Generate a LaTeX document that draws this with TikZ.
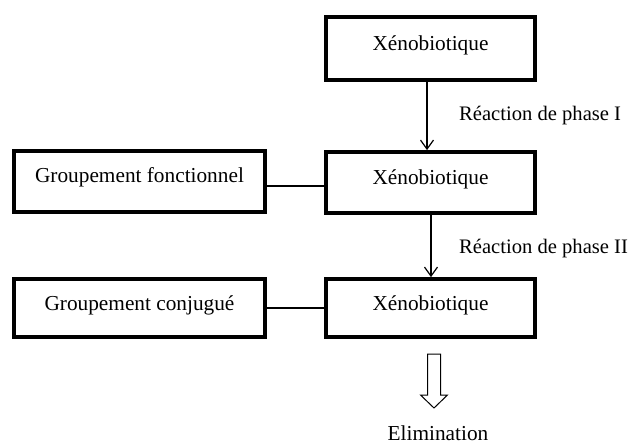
\documentclass[tikz,border=0pt]{standalone}
\usepackage{fontspec}
\setmainfont{Liberation Serif}
\usetikzlibrary{arrows.meta}
\begin{document}
\begin{tikzpicture}[x=1pt,y=-1pt,
  framebox/.style={draw, line width=3.8pt, inner sep=0pt},
  boxtext/.style={inner sep=0pt, font=\fontsize{21.3}{25}\selectfont},
  sidetext/.style={inner sep=0pt, font=\fontsize{20.6}{24}\selectfont},
  link/.style={line width=1.2pt},
  flow/.style={line width=1.2pt, -{Straight Barb[length=9pt,width=13pt,line width=1.2pt]}}]
  \useasboundingbox (0,0) rectangle (630,444);

  % main column
  \node[framebox, minimum width=209pt, minimum height=63pt] (x1) at (430.5,48.5) {};
  \node[framebox, minimum width=209pt, minimum height=61pt] (x2) at (430.5,182.5) {};
  \node[framebox, minimum width=209pt, minimum height=58pt] (x3) at (430.5,308) {};
  \node[boxtext] (t1) at ([yshift=3pt]x1.center) {Xénobiotique};
  \node[boxtext] (t2) at ([yshift=3pt]x2.center) {Xénobiotique};
  \node[boxtext] (t3) at ([yshift=3pt]x3.center) {Xénobiotique};

  % side boxes
  \node[framebox, minimum width=251pt, minimum height=61pt] (g1) at (139.5,181.5) {};
  \node[framebox, minimum width=251pt, minimum height=58pt] (g2) at (139.5,308) {};
  \node[boxtext] (u1) at ([yshift=4pt]g1.center) {Groupement fonctionnel};
  \node[boxtext] (u2) at ([yshift=3pt]g2.center) {Groupement conjugué};

  % connectors
  \draw[flow] ([xshift=-3.5pt]x1.south) -- ([xshift=-3.5pt]x2.north);
  \draw[flow] ([xshift=0.5pt]x2.south) -- ([xshift=0.5pt]x3.north);
  \draw[link] ([yshift=-4.5pt]g1.east) -- ([yshift=-4.5pt]g1.east -| x2.west);
  \draw[link] (g2.east) -- (x3.west);

  % reaction labels
  \node[sidetext, anchor=west] (r1) at (459,116) {Réaction de phase I};
  \node[sidetext, anchor=west] (r2) at (459,249) {Réaction de phase II};

  % hollow elimination arrow
  \draw[line width=1pt, line join=miter]
    (427.5,354) -- (440.5,354) -- (440.5,395) -- (447.5,395) -- (434,408)
    -- (420.5,395) -- (427.5,395) -- cycle;
  \node[boxtext] (el) at (438,433) {Elimination};
\end{tikzpicture}
\end{document}
